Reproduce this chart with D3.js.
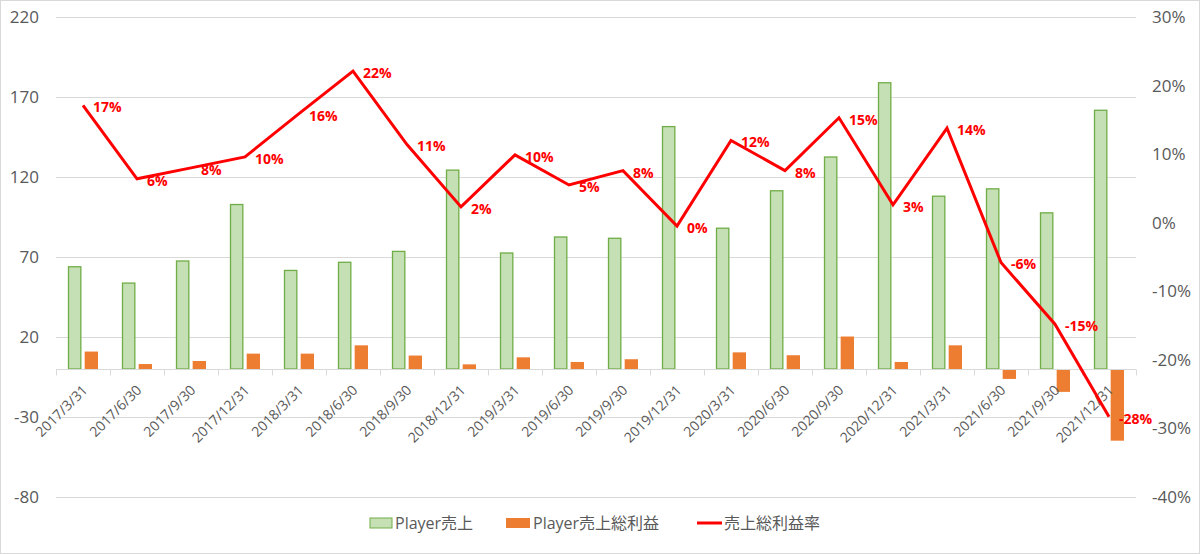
<!DOCTYPE html>
<html><head><meta charset="utf-8">
<script src="https://cdn.jsdelivr.net/npm/d3@7"></script>
<style>
html,body{margin:0;padding:0;background:#fff;}
svg{display:block;font-family:"Open Sans","Noto Sans CJK JP",sans-serif;}
</style></head>
<body><svg id="c" width="1200" height="554"></svg>
<script>
const categories = ["2017/3/31","2017/6/30","2017/9/30","2017/12/31","2018/3/31","2018/6/30","2018/9/30","2018/12/31","2019/3/31","2019/6/30","2019/9/30","2019/12/31","2020/3/31","2020/6/30","2020/9/30","2020/12/31","2021/3/31","2021/6/30","2021/9/30","2021/12/31"];
const sales  = [63.9,53.7,67.5,102.8,61.6,66.7,73.5,124.3,72.5,82.5,81.7,151.5,88,111.4,132.5,178.9,108,112.6,97.6,161.7];
const profit = [10.9,3.1,5.0,9.6,9.6,14.8,8.4,2.9,7.3,4.4,6.1,-0.6,10.4,8.6,20.3,4.4,14.8,-6.2,-14.3,-44.8];
const margin = [0.171,0.064,0.080,0.096,0.159,0.221,0.114,0.023,0.099,0.055,0.076,-0.005,0.120,0.076,0.153,0.026,0.138,-0.058,-0.148,-0.283];
const marginLabels = ["17%","6%","8%","10%","16%","22%","11%","2%","10%","5%","8%","0%","12%","8%","15%","3%","14%","-6%","-15%","-28%"];
const leftTicks = [-80,-30,20,70,120,170,220];
const rightTicks = [-0.4,-0.3,-0.2,-0.1,0,0.1,0.2,0.3];
const seriesNames = ["Player売上","Player売上総利益","売上総利益率"];

const svg = d3.select("#c");
const W=1200,H=554;
svg.append("rect").attr("x",0.5).attr("y",0.5).attr("width",W-1).attr("height",H-1)
  .attr("fill","#fff").attr("stroke","#d9d9d9");

const plotL=56, plotR=1136, plotT=17, plotB=497;
const y = d3.scaleLinear().domain([-80,220]).range([plotB,plotT]);
const y2 = d3.scaleLinear().domain([-0.4,0.3]).range([plotB,plotT]);
const x = d3.scaleBand().domain(categories).range([plotL,plotR]).padding(0);
const x1 = d3.scaleBand().domain(["sales","profit"]).range([12,42]).paddingInner(0.2);
const hy = s => s.replace("\u2212","-");

// gridlines
svg.append("g").selectAll("line").data(leftTicks).join("line")
  .attr("x1",plotL).attr("x2",plotR)
  .attr("y1",d=>Math.round(y(d))+0.5).attr("y2",d=>Math.round(y(d))+0.5)
  .attr("stroke","#d9d9d9").attr("stroke-width",1);

// left axis
const gl = svg.append("g").attr("transform",`translate(${plotL},0)`)
  .call(d3.axisLeft(y).tickValues(leftTicks).tickSize(0).tickPadding(17).tickFormat(d=>hy(String(d))));
gl.select(".domain").remove();
gl.selectAll("text").attr("font-size",17).attr("fill","#595959").attr("font-family","Open Sans, sans-serif");

// right axis
const pf = d3.format(".0%");
const gr = svg.append("g").attr("transform",`translate(${plotR},0)`)
  .call(d3.axisRight(y2).tickValues(rightTicks).tickSize(0).tickPadding(16).tickFormat(d=>hy(pf(d))));
gr.select(".domain").remove();
gr.selectAll("text").attr("font-size",17).attr("fill","#595959").attr("font-family","Open Sans, sans-serif");

// bars
const groups = svg.append("g").selectAll("g").data(categories).join("g")
  .attr("transform",d=>`translate(${x(d)},0)`);
groups.append("rect")
  .attr("x",x1("sales")+0.5).attr("width",x1.bandwidth()-1)
  .attr("y",(d,i)=>y(sales[i])).attr("height",(d,i)=>y(0)-y(sales[i]))
  .attr("fill","#c5e0b4").attr("stroke","#70ad47").attr("stroke-width",1.3);
groups.append("rect")
  .attr("x",x1("profit")).attr("width",x1.bandwidth())
  .attr("y",(d,i)=>y(Math.max(0,profit[i]))).attr("height",(d,i)=>Math.abs(y(0)-y(profit[i])))
  .attr("fill","#ed7d31");

// x axis
const zeroY = Math.round(y(0))+0.5;
svg.append("line").attr("x1",plotL).attr("x2",plotR).attr("y1",zeroY).attr("y2",zeroY)
  .attr("stroke","#d9d9d9").attr("stroke-width",1);
const tickPos = categories.map(c=>x(c)).concat([plotR]);
svg.append("g").selectAll("line").data(tickPos).join("line")
  .attr("x1",d=>Math.round(d)+0.5).attr("x2",d=>Math.round(d)+0.5)
  .attr("y1",zeroY).attr("y2",zeroY+6).attr("stroke","#d9d9d9");
svg.append("g").selectAll("text").data(categories).join("text")
  .attr("transform",d=>`translate(${x(d)+x.bandwidth()/2+2},${zeroY+18}) rotate(-45)`)
  .attr("text-anchor","end").attr("dy","0.35em")
  .attr("font-size",14).attr("fill","#595959").text(d=>d);

// line
const line = d3.line().x((d,i)=>x(categories[i])+x.bandwidth()/2).y(d=>y2(d));
svg.append("path").datum(margin).attr("d",line).attr("fill","none")
  .attr("stroke","#ff0000").attr("stroke-width",3).attr("stroke-linejoin","miter");
svg.append("g").selectAll("text").data(margin).join("text")
  .attr("x",(d,i)=>x(categories[i])+x.bandwidth()/2+10)
  .attr("y",d=>y2(d)+2).attr("dy","0.35em")
  .attr("font-size",14).attr("font-weight","bold").attr("fill","#ff0000")
  .text((d,i)=>marginLabels[i]);

// legend
const leg = svg.append("g").attr("transform","translate(0,523)");
leg.append("rect").attr("x",370).attr("y",-5).attr("width",22).attr("height",10)
  .attr("fill","#c5e0b4").attr("stroke","#70ad47");
leg.append("text").attr("x",395).attr("y",0).attr("dy","0.35em").text(seriesNames[0]);
leg.append("rect").attr("x",506).attr("y",-5).attr("width",24).attr("height",10).attr("fill","#ed7d31");
leg.append("text").attr("x",533).attr("y",0).attr("dy","0.35em").text(seriesNames[1]);
leg.append("line").attr("x1",697).attr("x2",722).attr("y1",0).attr("y2",0).attr("stroke","#ff0000").attr("stroke-width",3);
leg.append("text").attr("x",724).attr("y",0).attr("dy","0.35em").text(seriesNames[2]);
leg.selectAll("text").attr("font-size",16).attr("fill","#595959").attr("font-family","Open Sans, Noto Sans CJK JP, sans-serif");
</script></body></html>
